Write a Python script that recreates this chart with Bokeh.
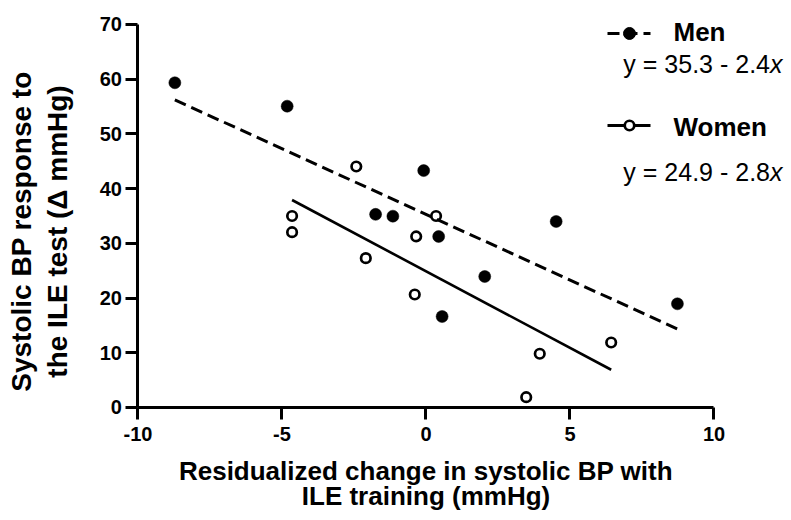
import math
from bokeh.plotting import figure
from bokeh.models import Range1d, FixedTicker
from bokeh.core.properties import value
from bokeh.embed import file_html
from bokeh.resources import INLINE

# ---- data ----
men_x = [-8.72, -4.82, -0.08, -1.75, -1.15, 0.44, 2.04, 0.56, 4.52, 8.73]
men_y = [59.35, 55.07, 43.3, 35.3, 34.97, 31.26, 23.94, 16.63, 34.0, 18.95]
women_x = [-2.42, 0.35, -4.65, -4.65, -0.34, -2.09, -0.39, 3.95, 6.43, 3.48]
women_y = [44.05, 35.0, 35.0, 32.04, 31.26, 27.29, 20.65, 9.82, 11.88, 1.88]

men_fit = (35.3, -2.4)      # intercept, slope
women_fit = (24.9, -2.8)

x_ticks = [-10, -5, 0, 5, 10]
y_ticks = [0, 10, 20, 30, 40, 50, 60, 70]
series_names = ["Men", "Women"]
equations = ["y = 35.3 - 2.4", "y = 24.9 - 2.8"]
x_title = ["Residualized change in systolic BP with", "ILE training (mmHg)"]
y_title = ["Systolic BP response to", "the ILE test (\u0394 mmHg)"]

FONT = "Liberation Sans"

# frame covers the whole canvas; axes sit at fixed data locations
p = figure(width=791, height=520, output_backend="svg", toolbar_location=None,
           x_range=Range1d(-14.774, 12.691), y_range=Range1d(-20.653, 74.386),
           min_border=0)
p.outline_line_color = None
p.grid.visible = False
p.background_fill_color = "white"
p.border_fill_color = "white"

p.xaxis[0].fixed_location = 0
p.yaxis[0].fixed_location = -10
for ax, ticks, bounds, standoff in ((p.xaxis[0], x_ticks, (-10, 10), 8),
                                    (p.yaxis[0], y_ticks, (0, 70), 4)):
    ax.ticker = FixedTicker(ticks=ticks)
    ax.major_label_overrides = {t: str(t) for t in ticks}
    ax.bounds = bounds
    ax.axis_line_width = 3
    ax.axis_line_color = "black"
    ax.major_tick_line_width = 3
    ax.major_tick_line_color = "black"
    ax.major_tick_out = 12
    ax.major_tick_in = 0
    ax.minor_tick_line_color = None
    ax.major_label_text_font = FONT
    ax.major_label_text_font_style = "bold"
    ax.major_label_text_font_size = "20px"
    ax.major_label_text_color = "black"
    ax.major_label_standoff = standoff

# regression lines over the data range
mx = [min(men_x), max(men_x)]
wx = [min(women_x), max(women_x)]
p.line(mx, [men_fit[0] + men_fit[1] * v for v in mx], line_color="black",
       line_width=3, line_dash="12 6")
p.line(wx, [women_fit[0] + women_fit[1] * v for v in wx], line_color="black",
       line_width=2.6)

# points
p.scatter(men_x, men_y, size=12, fill_color="black", line_color="black", line_width=0.5)
p.scatter(women_x, women_y, size=9.5, fill_color=None, line_color="black", line_width=2.7)

# ---- legend (drawn manually) ----
lx0, lx1, lmark = 6.302, 7.795, 7.066
men_ly, women_ly = 68.36, 51.54
p.line([lx0, lx1], [men_ly, men_ly], line_color="black", line_width=3, line_dash="12 6")
p.scatter([lmark], [men_ly], size=12, fill_color="black", line_color="black")
p.line([lx0, lx1], [women_ly, women_ly], line_color="black", line_width=3)
p.scatter([lmark], [women_ly], size=9.5, fill_color="white", line_color="black", line_width=2.7)

p.text(x=[8.594, 8.594], y=[68.60, 51.23], text=series_names,
       text_font=value(FONT), text_font_style="bold", text_font_size="26px",
       text_align="left", text_baseline="alphabetic", text_color="black")
eq_anchor = 11.944
p.text(x=[eq_anchor, eq_anchor], y=[62.82, 43.01], text=equations,
       text_font=value(FONT), text_font_size="25px",
       text_align="right", text_baseline="alphabetic", text_color="black")
p.text(x=[eq_anchor, eq_anchor], y=[62.82, 43.01], text=["x", "x"],
       text_font=value(FONT), text_font_style="italic", text_font_size="25px",
       text_align="left", text_baseline="alphabetic", text_color="black")

# ---- axis titles ----
p.text(x=[0, 0], y=[-11.69, -16.26], text=x_title,
       text_font=value(FONT), text_font_style="bold", text_font_size="26px",
       text_align="center", text_baseline="alphabetic", text_color="black")
p.text(x=[-14.04, -12.80], y=[32.17, 32.17], text=y_title, angle=math.pi / 2,
       text_font=value(FONT), text_font_style="bold", text_font_size="28px",
       text_align="center", text_baseline="middle", text_color="black")

open("out.html", "w").write(file_html(p, INLINE))
